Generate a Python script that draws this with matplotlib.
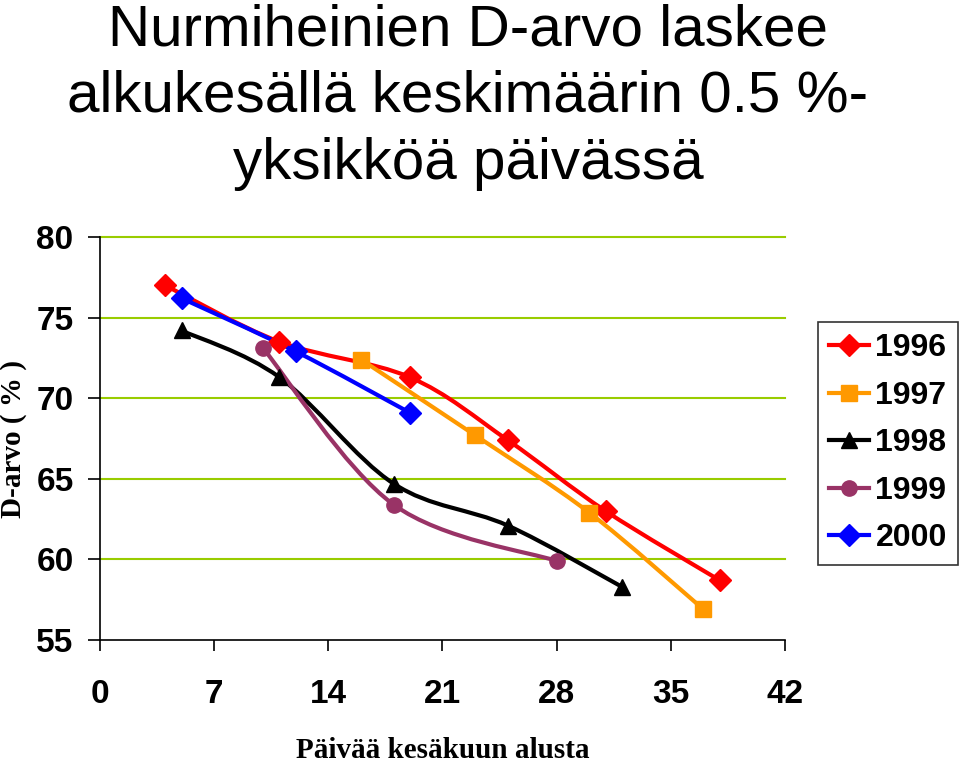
import matplotlib
matplotlib.use("Agg")
import matplotlib.pyplot as plt
from matplotlib.path import Path
from matplotlib.patches import PathPatch
from matplotlib.lines import Line2D
import numpy as np

title = "Nurmiheinien D-arvo laskee\nalkukesällä keskimäärin 0.5 %-\nyksikköä päivässä"
xlabel = "Päivää kesäkuun alusta"
ylabel = "D-arvo ( % )"

x1996 = [4, 11, 19, 25, 31, 38]
y1996 = [77.0, 73.5, 71.3, 67.4, 63.0, 58.7]
x1997 = [16, 23, 30, 37]
y1997 = [72.4, 67.7, 62.9, 56.9]
x1998 = [5, 11, 18, 25, 32]
y1998 = [74.2, 71.3, 64.7, 62.1, 58.3]
x1999 = [10, 18, 28]
y1999 = [73.1, 63.4, 59.9]
x2000 = [5, 12, 19]
y2000 = [76.2, 72.9, 69.1]

series = [
    ("1996", x1996, y1996, "#FF0000", "D"),
    ("1997", x1997, y1997, "#FF9900", "s"),
    ("1998", x1998, y1998, "#000000", "^"),
    ("1999", x1999, y1999, "#993366", "o"),
    ("2000", x2000, y2000, "#0000FF", "D"),
]

xticks = [0, 7, 14, 21, 28, 35, 42]
yticks = [55, 60, 65, 70, 75, 80]

tick_font = ['Liberation Sans', 'DejaVu Sans']

fig = plt.figure(figsize=(9.6, 7.64), dpi=100)
ax = fig.add_axes([100/960, 1-640/764, 685/960, 403/764])


def smooth_path(xs, ys):
    # Excel-style smoothed line: Catmull-Rom segments drawn as cubic Bezier
    pts = list(zip(xs, ys))
    verts = [pts[0]]
    codes = [Path.MOVETO]
    n = len(pts)
    for i in range(n - 1):
        p0 = pts[i - 1] if i > 0 else pts[i]
        p1 = pts[i]
        p2 = pts[i + 1]
        p3 = pts[i + 2] if i + 2 < n else pts[i + 1]
        t = 1/6
        c1 = (p1[0] + (p2[0] - p0[0]) * t, p1[1] + (p2[1] - p0[1]) * t)
        c2 = (p2[0] - (p3[0] - p1[0]) * t, p2[1] - (p3[1] - p1[1]) * t)
        verts += [c1, c2, p2]
        codes += [Path.CURVE4] * 3
    return Path(verts, codes)


handles = []
for name, xs, ys, col, mk in series:
    patch = PathPatch(smooth_path(xs, ys), facecolor='none', edgecolor=col,
                      lw=3.0, zorder=3, capstyle='round', joinstyle='round')
    ax.add_patch(patch)
    ms = 11
    ax.plot(xs, ys, linestyle='none', marker=mk, color=col, markersize=ms,
            zorder=4, markeredgecolor=col)
    handles.append(Line2D([], [], color=col, lw=3.0, marker=mk, markersize=ms,
                          markeredgecolor=col))

ax.set_xlim(0, 42)
ax.set_ylim(55, 80)
ax.set_xticks(xticks)
ax.set_yticks(yticks)
for y in yticks[1:]:
    ax.axhline(y, color="#99CC00", lw=1.5, zorder=1, clip_on=False)

for s in ("top", "right"):
    ax.spines[s].set_visible(False)
for s in ("left", "bottom"):
    ax.spines[s].set_linewidth(1.2)
    ax.spines[s].set_color("black")

ax.tick_params(axis='y', direction='out', length=9, width=1.2, pad=10)
ax.tick_params(axis='x', direction='out', length=8, width=1.2, pad=20)
for lab in ax.get_xticklabels() + ax.get_yticklabels():
    lab.set_fontfamily(tick_font)
    lab.set_fontsize(24)
    lab.set_fontweight('bold')

ax.set_xlabel(xlabel, family=['Liberation Serif', 'DejaVu Serif'],
              fontweight='bold', fontsize=21)
ax.xaxis.set_label_coords(343/685, -97/403)
ax.set_ylabel(ylabel, family=['Liberation Serif', 'DejaVu Serif'],
              fontweight='bold', fontsize=21)
ax.yaxis.set_label_coords(-73/685, 0.5)

fig.text(468/960, 1-97/764, title, ha='center', va='center',
         family=['Liberation Sans', 'DejaVu Sans'], fontsize=42,
         linespacing=1.3)

leg = fig.legend(handles, [s[0] for s in series], loc='upper right',
                 bbox_to_anchor=(958/960, 1-322/764),
                 prop={'family': tick_font, 'size': 23, 'weight': 'bold'},
                 frameon=True, fancybox=False, edgecolor='black',
                 handlelength=1.25, handletextpad=0.2, labelspacing=0.55,
                 borderpad=0.35, borderaxespad=0)
leg.get_frame().set_linewidth(1.2)

fig.savefig("out.png", dpi=100)
